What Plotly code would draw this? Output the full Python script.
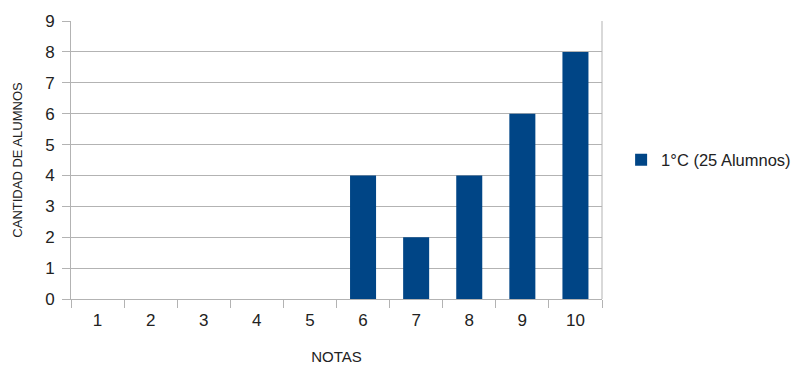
import plotly.graph_objects as go

notas = ["1", "2", "3", "4", "5", "6", "7", "8", "9", "10"]
cantidad = [0, 0, 0, 0, 0, 4, 2, 4, 6, 8]
serie_nombre = "1°C (25 Alumnos)"
y_ticks = [0, 1, 2, 3, 4, 5, 6, 7, 8, 9]

FONT = "Liberation Sans, Arial, sans-serif"

fig = go.Figure()
fig.add_trace(go.Bar(
    x=notas, y=cantidad, name=serie_nombre,
    marker=dict(color="#004586", line=dict(width=0)),
    width=0.49, showlegend=True,
))

fig.update_layout(
    width=795, height=359,
    margin=dict(l=63, r=201, t=13, b=68, autoexpand=False),
    paper_bgcolor="white", plot_bgcolor="white",
    font=dict(family=FONT, size=17, color="#222222"),
    showlegend=True,
    legend=dict(x=1.036, xanchor="left", y=0.5, yanchor="middle",
                font=dict(size=16.5, color="#222222"), itemwidth=30,
                bgcolor="rgba(0,0,0,0)"),
)
fig.update_xaxes(
    type="category", tickson="boundaries", ticks="outside", ticklen=8,
    tickcolor="#b3b3b3", showline=True, linecolor="#b3b3b3", linewidth=1,
    showgrid=False, range=[-0.5, 9.5], automargin=False,
    ticklabelstandoff=6,
    title=dict(text="NOTAS", font=dict(size=15, color="#222222"), standoff=22),
    tickfont=dict(size=17, color="#222222"),
)
fig.update_yaxes(
    range=[0, 9], tickvals=y_ticks, ticks="outside", ticklen=8,
    tickcolor="#b3b3b3", showline=True, linecolor="#b3b3b3", linewidth=1,
    showgrid=True, gridcolor="#b3b3b3", gridwidth=1, zeroline=False,
    automargin=False, ticklabelstandoff=4,
    title=dict(text="CANTIDAD DE ALUMNOS", font=dict(size=13, color="#222222"), standoff=19),
    tickfont=dict(size=17, color="#222222"),
)
# right border line of plot area
fig.update_layout(shapes=[dict(type="line", xref="paper", yref="paper",
                               x0=1, x1=1, y0=0, y1=1,
                               line=dict(color="#b3b3b3", width=1))])

fig.write_html("out.html")
